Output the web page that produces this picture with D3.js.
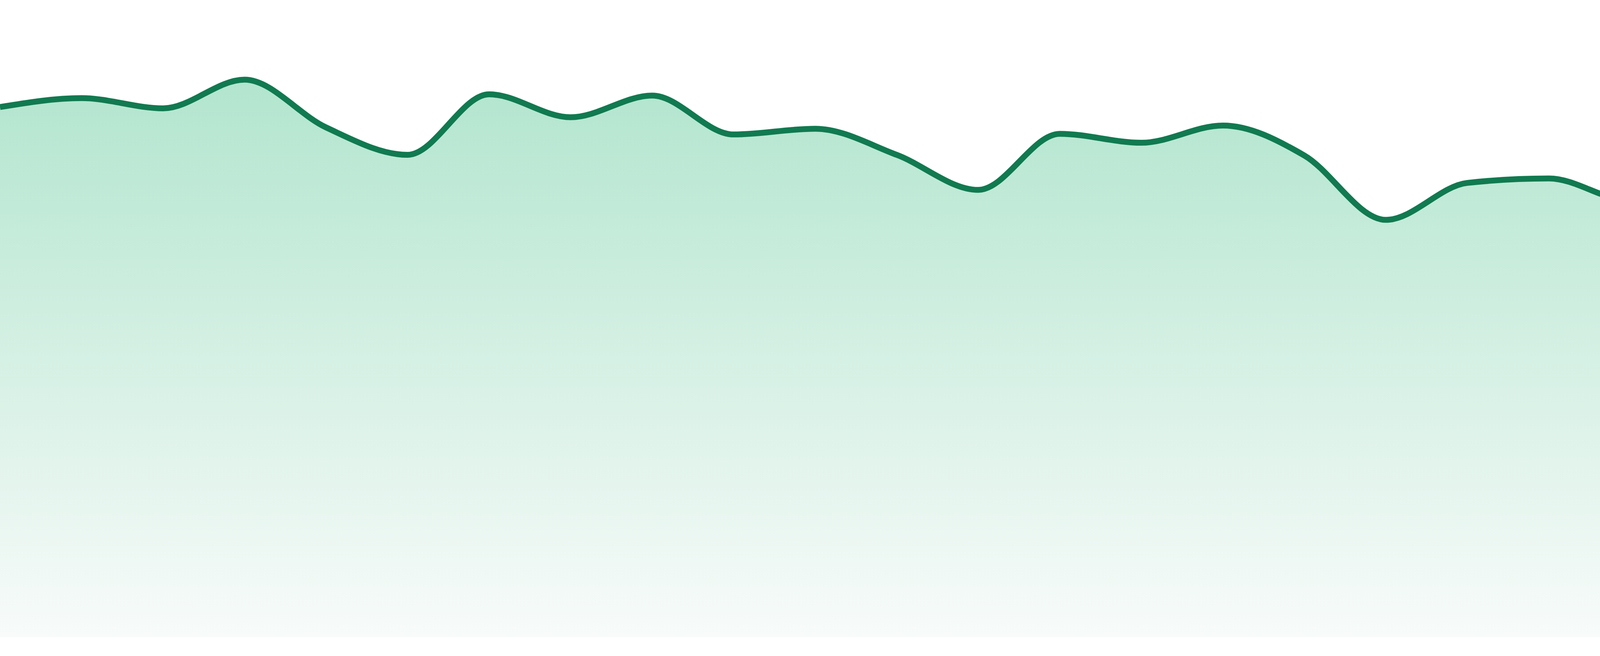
<!DOCTYPE html>
<html>
<head>
<meta charset="utf-8">
<script src="https://cdn.jsdelivr.net/npm/d3@7"></script>
<style>
  html, body { margin: 0; padding: 0; background: #ffffff; overflow: hidden; }
  svg { display: block; }
</style>
</head>
<body>
<svg id="chart" width="4800" height="1680"></svg>
<script>
// ---- data ----
const categories = ["P1","P2","P3","P4","P5","P6","P7","P8","P9","P10","P11","P12",
                    "P13","P14","P15","P16","P17","P18","P19","P20","P21","P22","P23","P24"];
const values = [83.2, 84.6, 83.0, 87.5, 80.0, 75.7, 85.2, 81.6, 85.0, 78.9, 79.8, 75.7,
                70.2, 79.0, 77.6, 80.3, 75.6, 65.5, 71.3, 72.0, 68.5, 76.5, 80.6, 78.2];
const yDomain = [0, 100];

// ---- layout ----
const W = 4800, H = 1680;
const plotBottom = 1632;

const svg = d3.select("#chart");
const data = categories.map((c, i) => ({ c, v: values[i] }));

const x = d3.scalePoint().domain(categories).range([0, W]);
const y = d3.scaleLinear().domain(yDomain).range([plotBottom, 0]);

const defs = svg.append("defs");
const grad = defs.append("linearGradient")
  .attr("id", "areaFill")
  .attr("gradientUnits", "userSpaceOnUse")
  .attr("x1", 0).attr("x2", 0)
  .attr("y1", y(d3.max(values))).attr("y2", plotBottom);
grad.append("stop").attr("offset", "0%").attr("stop-color", "#b2e5ce");
grad.append("stop").attr("offset", "100%").attr("stop-color", "#f8fbfa");

const area = d3.area()
  .x(d => x(d.c))
  .y0(plotBottom)
  .y1(d => y(d.v))
  .curve(d3.curveMonotoneX);

const line = d3.line()
  .x(d => x(d.c))
  .y(d => y(d.v))
  .curve(d3.curveMonotoneX);

svg.append("path")
  .datum(data)
  .attr("d", area)
  .attr("fill", "url(#areaFill)");

svg.append("path")
  .datum(data)
  .attr("d", line)
  .attr("fill", "none")
  .attr("stroke", "#117a50")
  .attr("stroke-width", 15)
  .attr("stroke-linejoin", "round");
</script>
</body>
</html>
